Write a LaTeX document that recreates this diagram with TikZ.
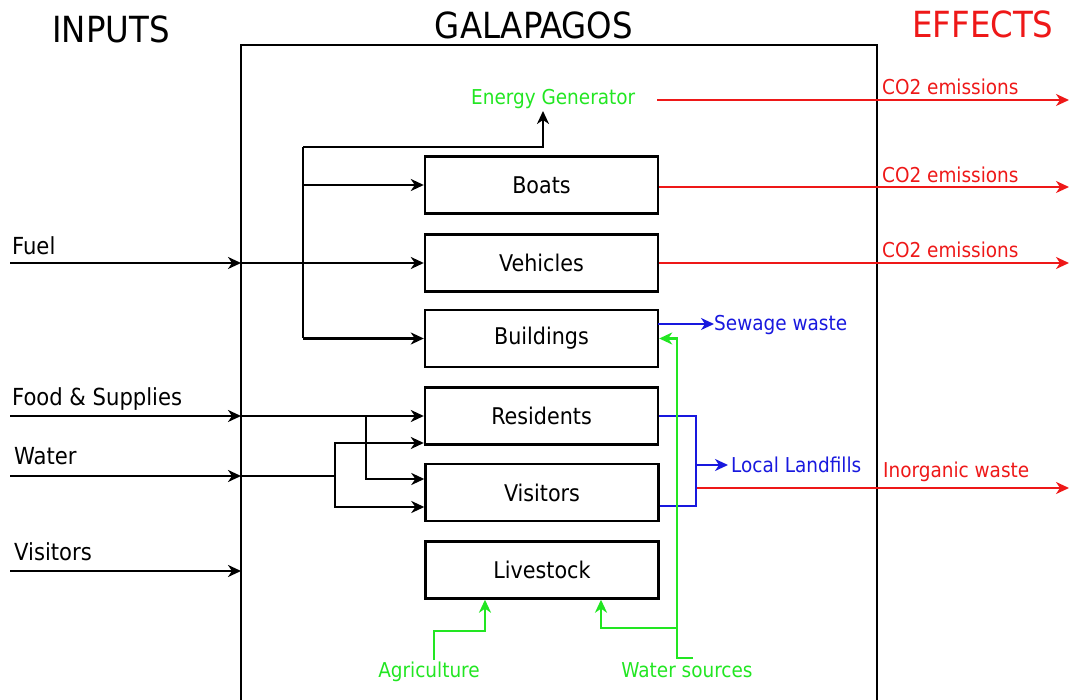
\documentclass[tikz,border=0pt]{standalone}
\usepackage{fontspec}
\setmainfont{DejaVu Sans Condensed}
\usetikzlibrary{arrows.meta,calc}
\definecolor{cred}{RGB}{238,24,24}
\definecolor{cgreen}{RGB}{34,230,34}
\definecolor{cblue}{RGB}{24,24,222}
\begin{document}
\begin{tikzpicture}[x=1pt,y=-1pt,
  tip/.style={-{Stealth[length=13pt,width=12pt,inset=4pt]}},
  ln/.style={line width=2.4pt,black},
  arr/.style={ln,tip},
  rln/.style={line width=2.2pt,cred,tip},
  bln/.style={line width=2.2pt,cblue},
  barr/.style={bln,tip},
  garr/.style={line width=2.2pt,cgreen,tip},
  box/.style={draw,line width=2.4pt,minimum width=233pt,minimum height=57pt,inner sep=0pt,font=\fontsize{23}{27}\selectfont},
  title/.style={anchor=base,inner sep=0pt,font=\fontsize{36}{40}\selectfont},
  inlab/.style={anchor=base west,inner sep=0pt,font=\fontsize{23.5}{27}\selectfont},
  small/.style={anchor=base west,inner sep=0pt,font=\fontsize{20.5}{24}\selectfont}]
\useasboundingbox (0,0) rectangle (1069,700);
% main frame
\draw[ln] (241,700) -- (241,45) -- (877,45) -- (877,700);
% titles
\node[title] (tin) at (111,43) {INPUTS};
\node[title] (tgal) at (534,39) {GALAPAGOS};
\node[title,text=cred] (teff) at (983,38) {EFFECTS};
% boxes
\node[box] (Boats) at (541.5,185) {Boats};
\node[box] (Vehicles) at (541.5,263) {Vehicles};
\node[box] (Buildings) at (541.5,338.5) {Buildings};
\node[box] (Residents) at (541.5,416) {Residents};
\node[box] (Visitors) at (542,492.5) {Visitors};
\node[box] (Livestock) at (542,570) {Livestock};
% input labels
\node[inlab] (lfuel) at (12,255) {Fuel};
\node[inlab] (lfood) at (12,406) {Food \& Supplies};
\node[inlab] (lwater) at (14,465) {Water};
\node[inlab] (lvis) at (14,560) {Visitors};
% other labels
\node[small,text=cgreen] (EG) at (471,105) {Energy Generator};
\node[small,text=cred] (co1) at (882,95) {CO2 emissions};
\node[small,text=cred] (co2) at (882,183) {CO2 emissions};
\node[small,text=cred] (co3) at (882,258) {CO2 emissions};
\node[small,text=cred] (inorg) at (883,478) {Inorganic waste};
\node[small,text=cblue] (sew) at (714,331) {Sewage waste};
\node[small,text=cblue] (LL) at (731,473) {Local Landfills};
\node[small,text=cgreen,anchor=base] (agri) at (429,677) {Agriculture};
\node[small,text=cgreen,anchor=base] (wsrc) at (687,677) {Water sources};
% coordinates
\coordinate (fuelS) at (10,263);
\coordinate (fuelM) at (241,263);
\coordinate (foodS) at (10,416);
\coordinate (foodM) at (241,416);
\coordinate (waterS) at (10,476);
\coordinate (waterM) at (241,476);
\coordinate (visS) at (10,571);
\coordinate (visM) at (241,571);
\coordinate (jT) at (303,147);
\coordinate (jBo) at (303,185);
\coordinate (jB) at (303,338.5);
\coordinate (egIn) at (543,111);
\coordinate (jFo) at (366,416);
\coordinate (jW) at (335,476);
\coordinate (effR) at (1069,0);
\coordinate (egOut) at (657,100);
\coordinate (sewS) at (658,324);
\coordinate (lt) at (696,416);
\coordinate (lb) at (696,506);
\coordinate (lm) at (696,465);
\coordinate (lr) at (696,488);
\coordinate (wsA) at (693,658);
\coordinate (gv) at (677,658);
\coordinate (gb) at (677,628);
\coordinate (agA) at (434,660);
\coordinate (agK) at (485,631);
% black inputs
\draw[arr] (fuelS) -- (fuelM);
\draw[arr] (fuelM) -- (Vehicles.west);
\draw[arr] (foodS) -- (foodM);
\draw[arr] (foodM) -- (Residents.west);
\draw[arr] (waterS) -- (waterM);
\draw[arr] (visS) -- (visM);
% fuel distribution
\draw[ln] (jT) -- (jB);
\draw[arr] (jT) -| (egIn);
\draw[arr] (jBo) -- (Boats.west);
\draw[arr] (jB) -- (Buildings.west);
% food and water distribution
\draw[arr] (jFo) |- ($(Visitors.west)+(0,-13.5)$);
\draw[ln] (waterM) -- (jW);
\draw[arr] (jW) |- ($(Residents.west)+(0,27)$);
\draw[arr] (jW) |- ($(Visitors.west)+(0,14.5)$);
% red effects
\draw[rln] (egOut) -- (egOut -| effR);
\draw[rln] ($(Boats.east)+(0,2)$) -- ($(Boats.east -| effR)+(0,2)$);
\draw[rln] (Vehicles.east) -- (Vehicles.east -| effR);
\draw[rln] (lr) -- (lr -| effR);
% blue wastes
\draw[barr] (sewS) -- (sewS -| sew.west);
\draw[bln] (Residents.east) -- (lt) -- (lb) -- (Visitors.east |- lb);
\draw[barr,shorten >=3pt] (lm) -- (lm -| LL.west);
% green
\draw[garr] (wsA) -| (Buildings.east -| gv) -- (Buildings.east);
\draw[garr] (gb) -| ($(Livestock.south)+(59,0)$);
\draw[garr] (agA) |- (agK) -- (Livestock.south -| agK);
\end{tikzpicture}
\end{document}
